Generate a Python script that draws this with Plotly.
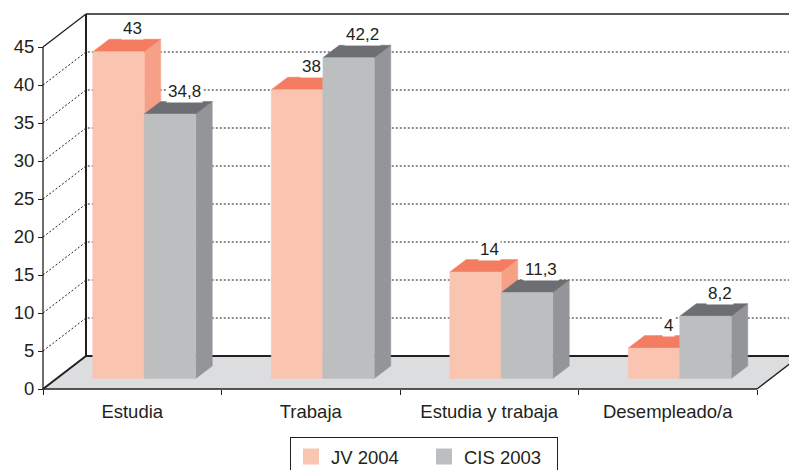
import plotly.graph_objects as go

# ---------------- data ----------------
categories = ["Estudia", "Trabaja", "Estudia y trabaja", "Desempleado/a"]
jv_2004 = [43, 38, 14, 4]
cis_2003 = [34.8, 42.2, 11.3, 8.2]
series_names = ["JV 2004", "CIS 2003"]
y_ticks = [0, 5, 10, 15, 20, 25, 30, 35, 40, 45]

# ---------------- styling / geometry (pixels) ----------------
W, H = 789, 470
CAT_PX = 178.5          # pixels per category
UNIT_PX = 7.6           # pixels per value unit
AXIS_X_PX = 43          # front value axis position
AXIS_Y_PX = 389         # front floor edge position
FLOOR_DX, FLOOR_DY = 43, 33
BAR_BASE_PX = 10.5
BAR_EDGES_PX = [-39.5, 12, 63.5]
BAR_DX, BAR_DY = 16.5, 12.5
LABEL_DX, LABEL_DY = 14, 23

INK = "#231f20"
FONT = "Liberation Sans, Arial, Helvetica, sans-serif"
colors = {
    "JV 2004": dict(front="#f9c5b0", top="#f47c61", side="#f6a088"),
    "CIS 2003": dict(front="#bcbec0", top="#6d6e71", side="#939598"),
}
FLOOR = "#dcdddf"


def dx(px):
    return px / CAT_PX


def dy(px):
    return px / UNIT_PX


x_range = [-0.5 - dx(AXIS_X_PX), -0.5 + dx(W - AXIS_X_PX)]
y_range = [-dy(H - AXIS_Y_PX), dy(AXIS_Y_PX)]
ymax = y_ticks[-1]
fdx, fdy = dx(FLOOR_DX), dy(FLOOR_DY)
x_left, x_right = -0.5, len(categories) - 0.5

fig = go.Figure()

# floor
fig.add_trace(go.Scatter(
    x=[x_left, x_right, x_right + fdx, x_left + fdx, x_left],
    y=[0, 0, fdy, fdy, 0], mode="lines", fill="toself",
    fillcolor=FLOOR, line=dict(width=0), hoverinfo="skip", showlegend=False))

# dotted gridlines (back wall + left wall)
gx, gy = [], []
for t in y_ticks[1:-1]:
    gx += [x_left, x_left + fdx, x_right + fdx, None]
    gy += [t, t + fdy, t + fdy, None]
fig.add_trace(go.Scatter(x=gx, y=gy, mode="lines",
                         line=dict(color=INK, width=1, dash="2px,2px"),
                         hoverinfo="skip", showlegend=False))

# frame lines
frame = [
    ([x_left, x_left], [0, ymax], 1.3),                               # front value axis
    ([x_left, x_left + fdx], [ymax, ymax + fdy], 1.3),                # top-left diagonal
    ([x_left + fdx, x_right + fdx + 1], [ymax + fdy, ymax + fdy], 1.3),  # back wall top
    ([x_left + fdx, x_left + fdx], [fdy, ymax + fdy], 2),             # back wall left
    ([x_left + fdx, x_right + fdx + 1], [fdy, fdy], 2),               # floor back edge
    ([x_left, x_left + fdx], [0, fdy], 2),                            # floor left diagonal
    ([x_left, x_right], [0, 0], 1.3),                                 # floor front edge
    ([x_right, x_right + fdx], [0, fdy], 1.3),                        # floor right diagonal
]
for xs, ys, w in frame:
    fig.add_trace(go.Scatter(x=xs, y=ys, mode="lines", line=dict(color=INK, width=w),
                             hoverinfo="skip", showlegend=False))

# bars
bdx, bdy = dx(BAR_DX), dy(BAR_DY)
yb = dy(BAR_BASE_PX)
annotations = []
for k, (name, vals) in enumerate(zip(series_names, [jv_2004, cis_2003])):
    faces = {"side": ([], []), "top": ([], []), "front": ([], [])}
    for i, v in enumerate(vals):
        x0 = i + dx(BAR_EDGES_PX[k])
        x1 = i + dx(BAR_EDGES_PX[k + 1])
        yt = yb + v
        fx, fy = faces["front"]
        fx += [x0, x1, x1, x0, x0, None]
        fy += [yb, yb, yt, yt, yb, None]
        tx, ty = faces["top"]
        tx += [x0, x1, x1 + bdx, x0 + bdx, x0, None]
        ty += [yt, yt, yt + bdy, yt + bdy, yt, None]
        sx, sy = faces["side"]
        sx += [x1, x1 + bdx, x1 + bdx, x1, x1, None]
        sy += [yb, yb + bdy, yt + bdy, yt, yb, None]
        label = f"{v:g}".replace(".", ",")
        cx = i + dx((BAR_EDGES_PX[k] + BAR_EDGES_PX[k + 1]) / 2 + LABEL_DX)
        annotations.append(dict(
            x=cx, y=yt + dy(LABEL_DY), xref="x", yref="y", text=label,
            showarrow=False, bgcolor="white", borderpad=1, yanchor="middle",
            font=dict(size=17, color=INK, family=FONT)))
    for face in ["side", "top", "front"]:
        xs, ys = faces[face]
        c = colors[name][face]
        fig.add_trace(go.Scatter(x=xs, y=ys, mode="lines", fill="toself",
                                 fillcolor=c, line=dict(color=c, width=0.5),
                                 hoverinfo="skip", showlegend=False))

# legend entries
for name in series_names:
    fig.add_trace(go.Scatter(x=[None], y=[None], mode="markers", name=name,
                             marker=dict(symbol="square", size=19,
                                         color=colors[name]["front"])))

fig.update_layout(
    width=W, height=H, autosize=False,
    margin=dict(l=0, r=0, t=0, b=0, pad=0, autoexpand=False),
    paper_bgcolor="white", plot_bgcolor="white",
    font=dict(family=FONT, color=INK, size=18.5),
    annotations=annotations,
    showlegend=True,
    legend=dict(orientation="h", x=290 / W, xanchor="left",
                y=1 - 437 / H, yanchor="top",
                entrywidth=88, entrywidthmode="pixels",
                bordercolor=INK, borderwidth=1, bgcolor="white",
                font=dict(size=18.5, color=INK, family=FONT)),
    xaxis=dict(range=x_range, showgrid=False, zeroline=False, showline=False,
               automargin=False,
               tickmode="array", tickvals=list(range(len(categories))),
               ticktext=categories, ticks="", ticklabelstandoff=9,
               minor=dict(tickmode="array",
                          tickvals=[j - 0.5 for j in range(len(categories) + 1)],
                          ticks="outside", ticklen=5, tickcolor=INK, tickwidth=1,
                          showgrid=False),
               anchor="free", position=(H - AXIS_Y_PX) / H,
               tickfont=dict(size=18.5, color=INK, family=FONT), fixedrange=True),
    yaxis=dict(range=y_range, showgrid=False, zeroline=False, showline=False,
               automargin=False,
               tickmode="array", tickvals=y_ticks, ticks="outside", ticklen=5,
               tickcolor=INK, tickwidth=1,
               anchor="free", position=AXIS_X_PX / W,
               tickfont=dict(size=18.5, color=INK, family=FONT), fixedrange=True),
)

fig.write_html("out.html", config={"displayModeBar": False},
               post_script="document.body.style.margin='0';")
